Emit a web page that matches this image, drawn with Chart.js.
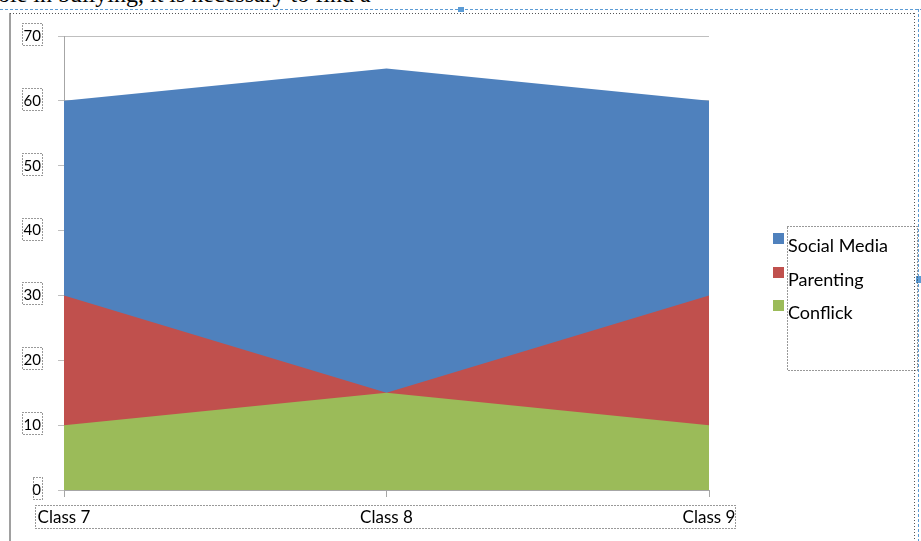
<!DOCTYPE html>
<html>
<head>
<meta charset="utf-8">
<script src="https://cdn.jsdelivr.net/npm/chart.js@4.4.1/dist/chart.umd.min.js"></script>
<style>
  html, body { margin: 0; padding: 0; background: #ffffff; }
  #wrap { position: relative; width: 921px; height: 541px; overflow: hidden; }
  #doctext { position: absolute; left: -2px; top: -19px; font-family: "Liberation Serif", serif; font-size: 24px; color: #000; white-space: nowrap; }
  canvas { position: absolute; left: 0; top: 0; }
</style>
</head>
<body>
<div id="wrap">
  <div id="doctext">ole in bullying, it is necessary to find a</div>
  <canvas id="c" width="921" height="541"></canvas>
</div>
<script>
const categories = ["Class 7", "Class 8", "Class 9"];
const socialMedia = [60, 65, 60];
const parenting = [30, 15, 30];
const conflick = [10, 15, 10];
const seriesNames = ["Social Media", "Parenting", "Conflick"];
const yTicks = [0, 10, 20, 30, 40, 50, 60, 70];

const colors = ["#4F81BD", "#C0504D", "#9BBB59"];
const FONT = "Lato, 'Open Sans', sans-serif";

const decorPlugin = {
  id: "decor",
  afterDraw(chart) {
    const ctx = chart.ctx;
    ctx.save();
    // outer chart frame
    ctx.strokeStyle = "#a0a0a0";
    ctx.lineWidth = 2;
    ctx.beginPath(); ctx.moveTo(10, 13); ctx.lineTo(10, 541); ctx.stroke();
    ctx.lineWidth = 1;
    ctx.setLineDash([1, 2]);
    ctx.strokeStyle = "#555";
    ctx.beginPath(); ctx.moveTo(10, 13.5); ctx.lineTo(915, 13.5); ctx.stroke();
    ctx.beginPath(); ctx.moveTo(914.5, 13); ctx.lineTo(914.5, 541); ctx.stroke();
    // selection dashed line
    ctx.strokeStyle = "#5b9bd5";
    ctx.setLineDash([3, 2]);
    ctx.beginPath(); ctx.moveTo(0, 9.5); ctx.lineTo(921, 9.5); ctx.stroke();
    ctx.beginPath(); ctx.moveTo(918.5, 9); ctx.lineTo(918.5, 541); ctx.stroke();
    ctx.setLineDash([]);
    ctx.fillStyle = "#5b9bd5";
    ctx.fillRect(458, 7, 6, 5);
    ctx.fillRect(916, 276, 5, 7);

    // dotted boxes around y tick labels
    const ys = chart.scales.y;
    ctx.strokeStyle = "#333";
    ctx.setLineDash([1, 2]);
    yTicks.forEach(v => {
      const py = ys.getPixelForValue(v);
      const w = String(v).length > 1 ? 19 : 8;
      ctx.strokeRect(41.5 - w, Math.round(py) - 12.5, w + 1, 22);
    });
    // dotted box around x labels
    ctx.strokeRect(35.5, 505.5, 700, 23);

    // legend
    const lx = 773, textX = 788;
    const rowY = [246, 280, 313];
    ctx.setLineDash([]);
    ctx.font = "18px " + FONT;
    ctx.textBaseline = "middle";
    ctx.textAlign = "left";
    seriesNames.forEach((name, i) => {
      ctx.fillStyle = colors[i];
      ctx.fillRect(lx, rowY[i] - 13, 11, 11);
      ctx.fillStyle = "#000";
      ctx.fillText(name, textX, rowY[i]);
    });
    ctx.setLineDash([1, 2]);
    ctx.strokeStyle = "#333";
    ctx.strokeRect(787.5, 226.5, 130, 144);
    ctx.restore();
  }
};

new Chart(document.getElementById("c"), {
  type: "line",
  data: {
    labels: categories,
    datasets: [
      { label: seriesNames[0], data: socialMedia, backgroundColor: colors[0], borderWidth: 0, pointRadius: 0, fill: "origin", order: 2 },
      { label: seriesNames[1], data: parenting, backgroundColor: colors[1], borderWidth: 0, pointRadius: 0, fill: "origin", order: 1 },
      { label: seriesNames[2], data: conflick, backgroundColor: colors[2], borderWidth: 0, pointRadius: 0, fill: "origin", order: 0 }
    ]
  },
  options: {
    responsive: false,
    animation: false,
    events: [],
    layout: { padding: { left: 0, right: 212, top: 36, bottom: 0 } },
    plugins: { legend: { display: false }, tooltip: { enabled: false } },
    elements: { line: { tension: 0 } },
    scales: {
      x: {
        type: "category",
        offset: false,
        grid: { display: true, drawOnChartArea: false, drawTicks: true, tickLength: 7, color: "#a6a6a6" },
        border: { display: true, color: "#a6a6a6", width: 1 },
        ticks: { color: "#000", font: { family: FONT, size: 17 }, padding: 10, maxRotation: 0, autoSkip: false },
        afterFit(s) { s.height = 51; }
      },
      y: {
        min: 0, max: 70,
        afterBuildTicks(s) { s.ticks = yTicks.map(v => ({ value: v })); },
        grid: { color: "#bfbfbf", drawTicks: true, tickLength: 6 },
        border: { display: true, color: "#a6a6a6", width: 1 },
        ticks: { color: "#000", font: { family: FONT, size: 15 }, padding: 17 },
        afterFit(s) { s.width = 64; }
      }
    }
  },
  plugins: [decorPlugin]
});
</script>
</body>
</html>
